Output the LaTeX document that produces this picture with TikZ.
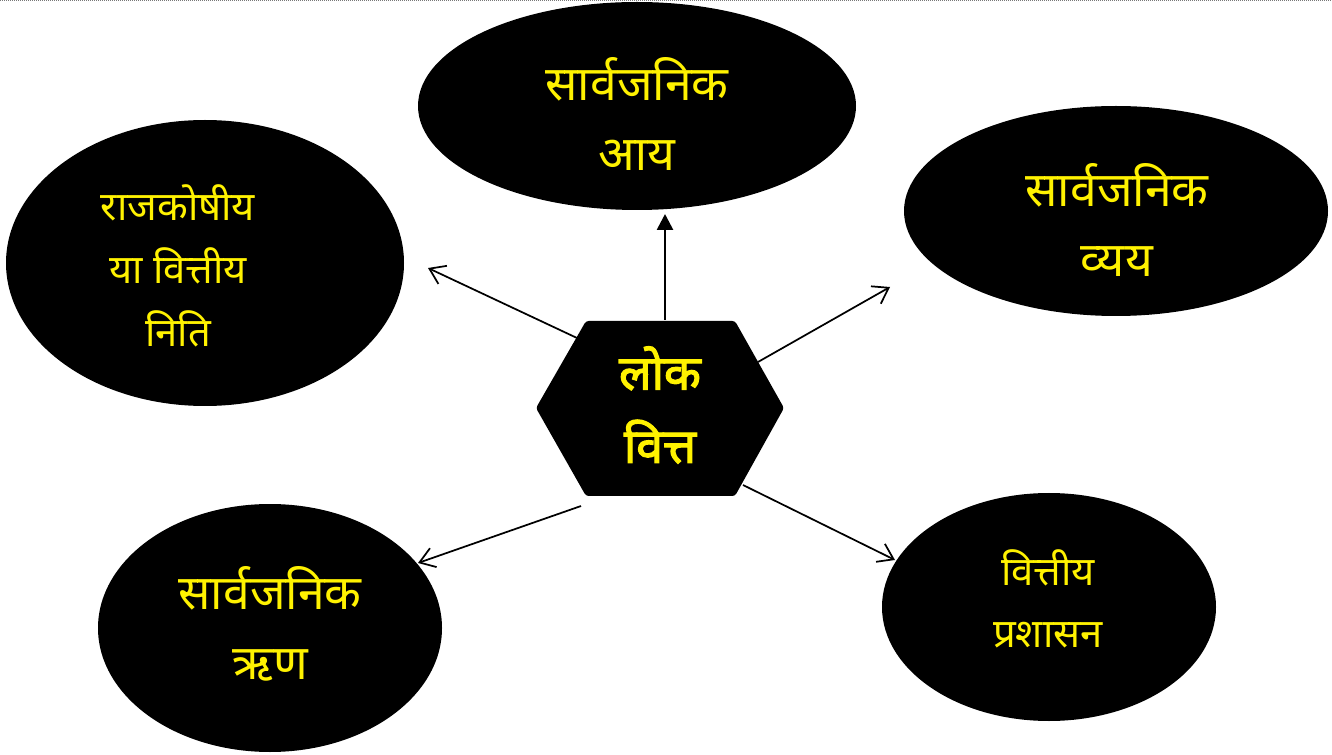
\documentclass[tikz,border=0pt]{standalone}
\usepackage{fontspec}
\newfontfamily\hindi[Script=Devanagari]{Noto Sans}
\newfontfamily\hindibold[Script=Devanagari,FakeBold=2.5]{Noto Sans}
\usetikzlibrary{shapes.geometric,arrows.meta}

\tikzset{every picture/.style={line width=0.75pt}}
\tikzset{
  blob/.style={ellipse, fill=black, inner sep=0pt},
  bigtxt/.style={text=yellow, align=center, inner sep=0pt, font=\hindi\fontsize{36}{53}\selectfont},
  smalltxt/.style={text=yellow, align=center, inner sep=0pt, font=\hindi\fontsize{30}{47}\selectfont},
  hubtxt/.style={text=yellow, align=center, inner sep=0pt, font=\hindibold\fontsize{36}{55}\selectfont},
  link/.style={line width=1.3pt, -{Straight Barb[length=11pt,width=15pt,line width=1.3pt]}},
  mainlink/.style={line width=2pt, -{Triangle[length=12pt,width=12pt]}},
}

\begin{document}
\begin{tikzpicture}[x=0.75pt,y=0.75pt,yscale=-1,xscale=1]
    \useasboundingbox (0,0) rectangle (1332,755);
    %dotted edge along the top
    \draw [densely dotted, color={rgb, 255:red, 120; green, 120; blue, 120 }, line width=0.5pt] (0,0.6) -- (1332,0.6) ;

    %Shape: Ellipse [income]
    \node [blob, minimum width=328.5pt, minimum height=156pt] (income) at (637,106) {};
    %Shape: Ellipse [policy]
    \node [blob, minimum width=298.5pt, minimum height=214.5pt] (policy) at (205,263) {};
    %Shape: Ellipse [spending]
    \node [blob, minimum width=318pt, minimum height=157.5pt] (spending) at (1116,211) {};
    %Shape: Ellipse [debt]
    \node [blob, minimum width=258pt, minimum height=186pt] (debt) at (270,628) {};
    %Shape: Ellipse [admin]
    \node [blob, minimum width=250.5pt, minimum height=171pt] (admin) at (1049,607) {};

    %Shape: Hexagon
    \fill [rounded corners=2pt] (586,321) -- (735,321) -- (784,408) -- (735,496) -- (586,496) -- (536,408) -- cycle ;

    % Text Node
    \node [hubtxt] (hub) at (660,405) {लोक\\वित्त};
    % Text Node
    \node [bigtxt] (incometxt) at (637,114) {सार्वजनिक\\आय};
    % Text Node
    \node [smalltxt] (policytxt) at (178,266) {राजकोषीय\\या वित्तीय\\निति};
    % Text Node
    \node [bigtxt] (spendingtxt) at (1117,220) {सार्वजनिक\\व्यय};
    % Text Node
    \node [bigtxt] (debttxt) at (270,624) {सार्वजनिक\\ऋण};
    % Text Node
    \node [smalltxt] (admintxt) at (1048,599) {वित्तीय\\प्रशासन};

    %arrow ends
    \coordinate (hubN) at (665,320) ;
    \coordinate (incomeS) at (665,214) ;
    \coordinate (hubNW) at (577,338) ;
    \coordinate (policyE) at (428,268) ;
    \coordinate (hubNE) at (758,362) ;
    \coordinate (spendingW) at (890,287) ;
    \coordinate (hubSW) at (581,506) ;
    \coordinate (debtNE) at (418,563) ;
    \coordinate (hubSE) at (743,485) ;
    \coordinate (adminNW) at (895,560) ;

    %Straight Lines
    \draw [mainlink] (hubN) -- (incomeS) ;
    \draw [link] (hubNW) -- (policyE) ;
    \draw [link] (hubNE) -- (spendingW) ;
    \draw [link] (hubSW) -- (debtNE) ;
    \draw [link] (hubSE) -- (adminNW) ;

\end{tikzpicture}
\end{document}
